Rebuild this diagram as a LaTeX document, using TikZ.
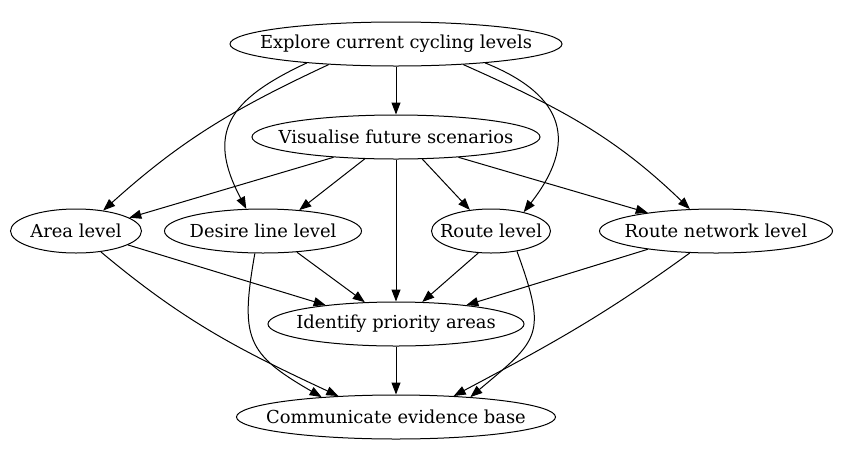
\documentclass[tikz,border=0pt]{standalone}
\usepackage{fontspec}
\setmainfont{DejaVu Serif}
\usetikzlibrary{shapes.geometric,arrows.meta}
\newcommand{\stagetext}[1]{\makebox[0pt]{#1}}
\begin{document}
\begin{tikzpicture}[
  x=1pt,y=1pt,
  stage/.style={draw,ellipse,inner sep=0pt,minimum height=44pt,line width=1pt,
    font=\fontsize{17.9}{20}\selectfont},
  arr/.style={-{Triangle[length=12pt,width=9pt]},line width=1pt}
]
\useasboundingbox (0,0) rectangle (847,-456);
\node[stage,minimum width=332pt] (explore) at (396,-44) {\stagetext{Explore current cycling levels}};
\node[stage,minimum width=288pt] (visual) at (396,-137) {\stagetext{Visualise future scenarios}};
\node[stage,minimum width=131pt] (area) at (76,-231) {\stagetext{Area level}};
\node[stage,minimum width=197pt] (desire) at (263,-231) {\stagetext{Desire line level}};
\node[stage,minimum width=119pt] (route) at (491,-231) {\stagetext{Route level}};
\node[stage,minimum width=233pt] (rnet) at (716,-231) {\stagetext{Route network level}};
\node[stage,minimum width=256pt] (ident) at (396,-324) {\stagetext{Identify priority areas}};
\node[stage,minimum width=319pt] (comm) at (396,-417) {\stagetext{Communicate evidence base}};

% from the top
\draw[arr] (explore) -- (visual);
\draw[arr] (explore.197) to[out=205,in=42] (area.37);
\draw[arr] (explore.192) to[out=205,in=118,looseness=1.4] (desire.127);
\draw[arr] (explore.348) to[out=-22,in=52,looseness=1.45] (route.30);
\draw[arr] (explore.343) to[out=-24,in=136] (rnet.140);
% scenarios
\draw[arr] (visual.198) -- (area.14);
\draw[arr] (visual.215) -- (desire.30);
\draw[arr] (visual) -- (ident);
\draw[arr] (visual.320) -- (route.135);
\draw[arr] (visual.342) -- (rnet.165);
% levels
\draw[arr] (area.345) -- (ident.165);
\draw[arr] (area.320) to[out=-40,in=155] (comm.160);
\draw[arr] (desire.328) -- (ident.145);
\draw[arr] (desire.250) to[out=260,in=150,looseness=1.4] (comm.165);
\draw[arr] (route.240) -- (ident.40);
\draw[arr] (route.322) to[out=-70,in=40,looseness=1.5] (comm.15);
\draw[arr] (rnet.195) -- (ident.15);
\draw[arr] (rnet.220) to[out=216,in=28] (comm.20);
\draw[arr] (ident) -- (comm);
\end{tikzpicture}
\end{document}
